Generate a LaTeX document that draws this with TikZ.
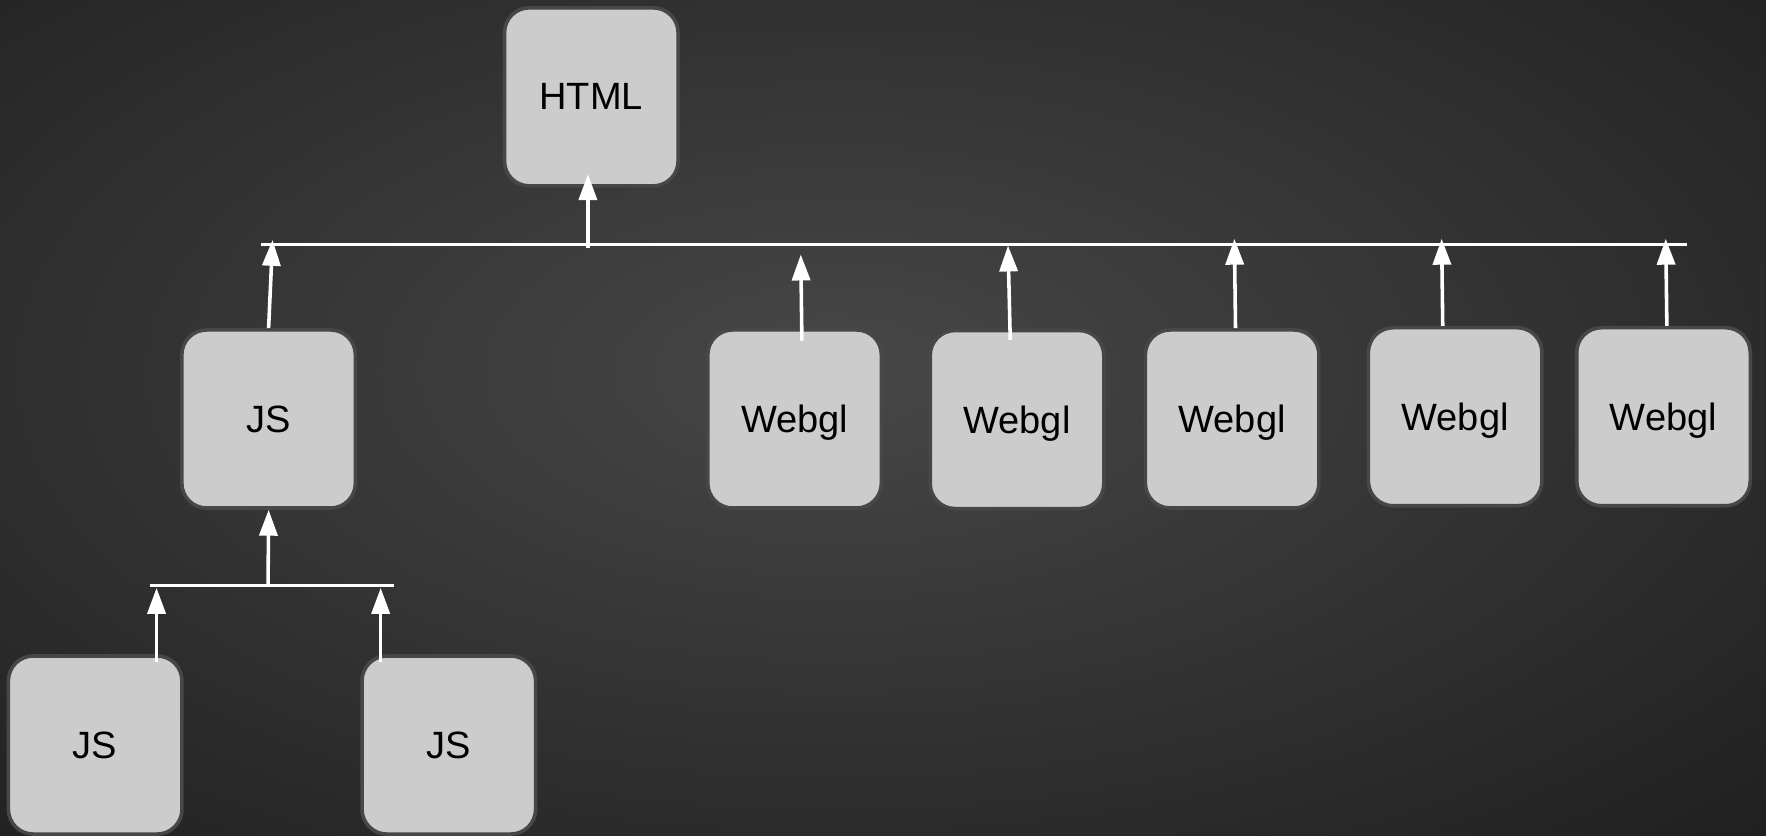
\documentclass[tikz,border=0pt]{standalone}
\usepackage{fontspec}
\setmainfont{Liberation Sans}
\usepackage{xcolor}
\usetikzlibrary{arrows.meta}

\definecolor{boxfill}{HTML}{CCCCCC}
\definecolor{boxline}{HTML}{474747}
\definecolor{bgin}{HTML}{474747}
\definecolor{bgmid}{HTML}{2A2A2A}
\definecolor{bgout}{HTML}{0E0E0E}
\pgfdeclareradialshading{bgglow}{\pgfpoint{0bp}{0bp}}{color(0bp)=(bgin); color(26bp)=(bgmid); color(52bp)=(bgout); color(75bp)=(bgout)}

\begin{document}
\begin{tikzpicture}[x=0.01cm, y=-0.01cm, >={Triangle[length=0.23cm,width=0.16cm]},
  block/.style={draw=boxline, fill=boxfill, line width=0.9pt, rounded corners=0.22cm,
    minimum width=1.54cm, minimum height=1.58cm, inner sep=0pt, text depth=0pt,
    font=\fontsize{9.6}{11}\selectfont},
  wire/.style={draw=white, line width=0.9pt}]
\useasboundingbox (0,0) rectangle (1568,742);
\begin{scope}
\clip (0,0) rectangle (1568,742);
\shade[shading=bgglow] (-88,-82) rectangle (1568,742);
\end{scope}

\node[block] (html) at (525,86) {HTML};
\node[block] (js) at (238.5,372) {JS};
\node[block] (jsa) at (84.5,661.5) {JS};
\node[block] (jsb) at (398.5,661.5) {JS};
\node[block] (gl1) at (705.5,372) {Webgl};
\node[block] (gl2) at (903,372.5) {Webgl};
\node[block] (gl3) at (1094,372) {Webgl};
\node[block] (gl4) at (1292,370) {Webgl};
\node[block] (gl5) at (1477,370) {Webgl};

% buses
\coordinate (bus l) at (232,217);
\coordinate (bus r) at (1498,217);
\coordinate (sub l) at (133,520);
\coordinate (sub r) at (350,520);
\draw[wire] (bus l) -- (bus r);
\draw[wire] (sub l) -- (sub r);

% arrow ends on the buses
\coordinate (html out) at (522,220);
\coordinate (js tip) at (242,213);
\coordinate (gl1 tip) at (711,226);
\coordinate (gl2 tip) at (895,218);
\coordinate (gl3 tip) at (1096,212);
\coordinate (gl4 tip) at (1280,212);
\coordinate (gl5 tip) at (1479,212);
\coordinate (js out) at (238,520);
\coordinate (jsa tip) at (139,522);
\coordinate (jsb tip) at (338,522);

\draw[wire,->] (html out) -- ([shift={(-3,-12)}]html.south);
\draw[wire,->] (js.north) -- (js tip);
\draw[wire,->] ([shift={(6.5,11)}]gl1.north) -- (gl1 tip);
\draw[wire,->] ([shift={(-6,10)}]gl2.north) -- (gl2 tip);
\draw[wire,->] ([shift={(3,0)}]gl3.north) -- (gl3 tip);
\draw[wire,->] ([shift={(-11,0)}]gl4.north) -- (gl4 tip);
\draw[wire,->] ([shift={(3,0)}]gl5.north) -- (gl5 tip);
\draw[wire,->] (js out) -- (js.south);
\draw[wire,->] ([shift={(54.5,7)}]jsa.north) -- (jsa tip);
\draw[wire,->] ([shift={(-60.5,7)}]jsb.north) -- (jsb tip);
\end{tikzpicture}
\end{document}
